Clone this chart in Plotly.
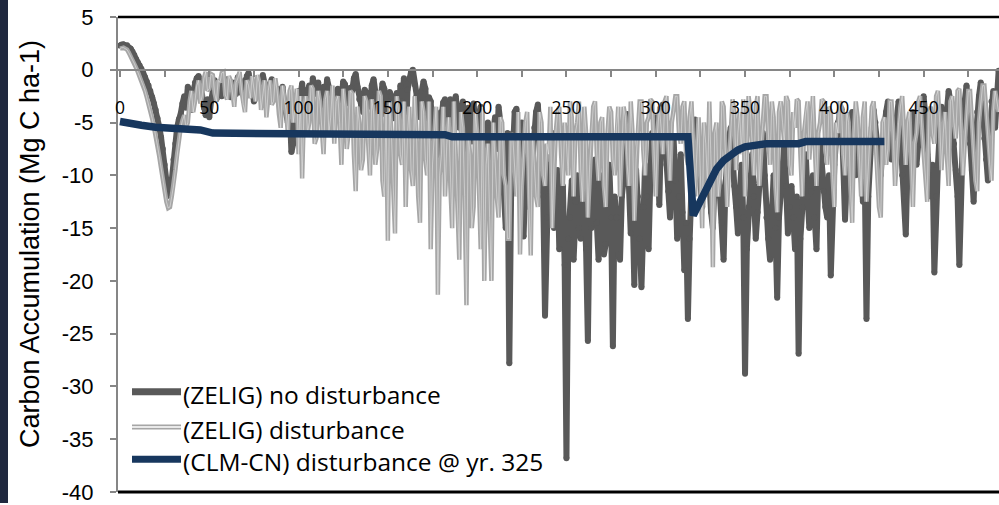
import plotly.graph_objects as go

# ---------------- data ----------------
zelig_years = list(range(0, 493))

zelig_no_disturbance = [
    2.3, 2.4, 2.4, 2.3, 2.3, 2.1, 2.0, 1.7, 1.4, 1.0,
    0.7, 0.4, 0.1, -0.3, -0.7, -1.1, -1.5, -2.0, -2.6, -3.2,
    -3.8, -4.6, -5.4, -6.4, -7.5, -9.0, -10.5, -11.9, -11.8, -10.5,
    -8.5, -7.0, -5.5, -4.7, -4.2, -3.2, -2.5, -3.6, -1.6, -2.2,
    -3.8, -2.0, -1.2, -0.8, -0.6, -1.5, -2.4, -3.6, -4.3, -2.8,
    -4.5, -3.0, -1.5, -1.0, -2.8, -1.6, -1.2, -2.5, -2.0, -1.3,
    -0.9, -1.8, -2.6, -1.2, -1.5, -2.3, -0.7, -1.4, -2.2, -1.6,
    -1.0, -0.6, -0.3, -1.2, -1.8, -3.0, -2.5, -1.4, -1.1, -2.2,
    -0.5, -1.3, -2.0, -2.6, -1.4, -0.9, -2.8, -2.0, -1.8, -3.0,
    -2.5, -1.6, -3.2, -4.0, -5.0, -3.5, -7.8, -7.0, -6.5, -3.0,
    -2.0, -2.6, -1.3, -3.3, -2.8, -1.9, -1.5, -2.8, -0.8, -1.5,
    -2.3, -1.2, -3.5, -2.4, -1.6, -2.9, -0.9, -1.7, -2.4, -3.0,
    -3.6, -2.2, -1.8, -2.6, -2.9, -1.1, -1.4, -2.5, -3.2, -1.7,
    -2.0, -0.8, -0.4, -1.6, -2.8, -3.3, -4.0, -1.9, -2.2, -3.1,
    -3.5, -1.5, -0.9, -2.1, -5.0, -2.4, -2.7, -1.3, -1.8, -4.2,
    -4.2, -2.1, -2.5, -4.6, -3.8, -2.2, -6.5, -1.5, -3.0, -0.8,
    -7.0, -1.9, -0.8, -0.2, 0.0, -1.4, -2.5, -3.6, -4.5, -2.0,
    -1.1, -1.8, -5.5, -2.6, -3.0, -6.2, -8.0, -4.0, -10.0, -6.0,
    -4.0, -3.1, -2.8, -4.5, -6.0, -2.8, -3.5, -5.0, -2.5, -4.2,
    -5.5, -3.8, -3.0, -6.0, -7.5, -3.6, -4.0, -6.8, -3.2, -5.0,
    -6.5, -4.2, -3.5, -7.0, -9.0, -5.5, -5.0, -8.5, -12.0, -6.0,
    -4.5, -7.5, -3.5, -5.0, -8.0, -11.0, -15.0, -6.0, -27.8, -12.0,
    -6.0, -4.0, -3.7, -7.5, -9.0, -5.0, -15.8, -10.0, -7.0, -13.0,
    -11.0, -8.0, -5.5, -4.0, -3.3, -6.5, -8.5, -12.0, -23.3, -14.0,
    -9.0, -11.5, -6.0, -15.0, -12.0, -9.5, -17.0, -13.0, -11.0, -18.5,
    -36.8, -16.0, -14.0, -10.5, -18.0, -12.5, -10.0, -15.0, -16.0, -9.0,
    -12.0, -17.0, -25.7, -13.0, -15.0, -11.0, -8.5, -14.5, -18.0, -10.0,
    -12.5, -17.5, -16.5, -11.0, -9.0, -14.0, -26.2, -12.0, -14.0, -17.5,
    -18.0, -12.0, -10.5, -7.0, -4.2, -11.0, -15.5, -12.5, -20.4, -9.5,
    -12.0, -16.0, -20.6, -13.0, -9.0, -12.0, -17.0, -10.0, -6.0, -8.5,
    -4.5, -7.0, -12.8, -5.0, -3.3, -6.0, -9.0, -11.5, -14.0, -8.0,
    -6.5, -10.5, -16.0, -12.0, -8.0, -13.5, -19.0, -14.5, -23.6, -16.0,
    -10.0, -6.5, -4.7, -6.0, -8.0, -10.5, -13.0, -9.0, -6.0, -11.0,
    -10.5, -13.5, -15.0, -10.0, -7.5, -9.0, -12.0, -14.5, -18.0, -11.0,
    -8.0, -6.5, -5.5, -9.0, -11.0, -13.0, -15.5, -12.0, -9.0, -14.0,
    -28.8, -17.0, -13.0, -10.0, -8.0, -12.0, -16.0, -13.5, -11.0, -8.5,
    -6.0, -10.0, -14.0, -16.0, -18.0, -13.0, -10.0, -15.0, -21.6, -14.0,
    -12.0, -9.5, -7.0, -11.0, -15.5, -13.0, -11.0, -14.0, -17.0, -12.0,
    -26.9, -16.0, -13.0, -10.5, -8.0, -12.0, -15.0, -11.5, -10.0, -14.0,
    -17.0, -10.0, -7.0, -9.0, -11.5, -13.0, -14.0, -10.0, -19.5, -12.0,
    -9.0, -6.5, -5.0, -4.2, -3.7, -8.0, -14.2, -10.0, -8.0, -5.5,
    -4.0, -6.5, -10.0, -8.0, -6.0, -9.0, -12.5, -9.5, -23.6, -12.0,
    -8.0, -5.5, -3.8, -5.0, -7.0, -8.5, -10.0, -7.0, -5.0, -4.0,
    -3.0, -5.0, -8.5, -7.0, -6.0, -4.5, -3.0, -6.0, -10.0, -12.0,
    -15.6, -9.0, -7.0, -5.0, -4.0, -6.5, -9.0, -7.0, -5.5, -4.0,
    -2.5, -4.5, -8.0, -10.0, -12.0, -9.0, -19.2, -12.0, -9.0, -6.0,
    -3.5, -5.0, -7.5, -4.0, -2.0, -3.0, -5.0, -7.0, -9.5, -12.0,
    -18.5, -10.0, -6.0, -3.0, -1.5, -3.5, -7.0, -9.5, -12.5, -7.0,
    -4.0, -2.5, -1.2, -3.5, -6.5, -8.5, -10.5, -6.0, -3.0, -2.0,
    -5.5, -2.5, -0.1,
]

zelig_disturbance = [
    2.0, 2.1, 2.1, 2.0, 1.9, 1.6, 1.3, 1.0, 0.6, 0.2,
    -0.2, -0.6, -1.0, -1.5, -2.0, -2.6, -3.2, -3.9, -4.6, -5.4,
    -6.2, -7.2, -8.2, -9.3, -10.5, -11.6, -12.5, -13.1, -13.0, -12.0,
    -11.0, -9.5, -8.0, -6.5, -5.5, -4.8, -4.3, -5.5, -5.0, -3.0,
    -2.0, -4.0, -3.0, -1.5, -1.0, -3.2, -2.5, -0.8, -0.2, -2.0,
    -1.8, -0.4, -0.5, -2.2, -3.0, -1.0, -1.2, -0.3, -0.2, -2.4,
    -2.8, -0.6, -1.0, -2.2, -3.5, -1.2, -0.8, -0.2, -2.0, -3.3,
    -4.0, -1.0, -1.5, -2.7, -0.6, -1.8, -3.0, -0.5, -1.2, -3.8,
    -2.5, -1.0, -4.5, -2.0, -1.0, -3.3, -3.0, -0.8, -2.0, -4.2,
    -5.5, -1.5, -2.5, -3.8, -6.0, -2.0, -1.5, -5.0, -3.5, -1.8,
    -8.0, -2.5, -10.3, -4.0, -2.5, -6.0, -5.0, -1.5, -1.8, -7.0,
    -6.5, -2.0, -3.0, -5.5, -8.0, -2.8, -2.0, -6.0, -4.5, -1.5,
    -7.0, -3.0, -2.5, -5.0, -9.0, -1.8, -3.5, -7.5, -6.0, -2.0,
    -2.2, -8.0, -11.5, -3.5, -5.0, -9.5, -8.5, -2.5, -3.0, -7.0,
    -10.0, -2.8, -4.0, -9.0, -7.5, -2.0, -2.5, -10.5, -12.0, -4.0,
    -16.2, -3.0, -6.0, -11.0, -15.5, -2.5, -4.0, -8.0, -9.0, -3.0,
    -13.0, -6.0, -3.5, -9.5, -11.0, -2.5, -6.0, -12.0, -14.5, -3.0,
    -4.0, -8.5, -10.0, -3.0, -17.0, -9.0, -6.5, -3.5, -21.3, -10.0,
    -8.0, -3.5, -12.0, -7.0, -4.5, -11.0, -15.0, -3.0, -9.0, -13.0,
    -18.0, -4.0, -5.5, -12.0, -22.3, -6.0, -8.0, -15.0, -13.0, -4.0,
    -6.0, -11.0, -17.0, -3.5, -20.0, -9.0, -7.0, -14.0, -20.0, -5.0,
    -9.0, -12.0, -14.0, -4.5, -5.0, -10.0, -11.0, -16.0, -16.0, -6.0,
    -6.5, -9.0, -12.0, -4.0, -17.5, -11.0, -8.0, -5.0, -4.0, -13.0,
    -17.6, -6.0, -9.0, -12.0, -13.0, -4.0, -5.0, -10.0, -11.0, -7.0,
    -8.0, -3.5, -15.0, -9.0, -6.0, -4.0, -3.5, -8.0, -11.0, -5.0,
    -7.0, -10.0, -3.0, -4.5, -12.0, -6.0, -5.0, -3.0, -9.5, -12.5,
    -3.5, -6.0, -14.0, -9.0, -6.5, -3.5, -3.0, -8.0, -10.5, -5.0,
    -4.5, -11.0, -13.0, -6.0, -3.5, -4.0, -8.5, -10.0, -5.5, -3.5,
    -12.0, -7.0, -3.5, -4.5, -9.0, -11.0, -3.0, -6.0, -14.3, -8.5,
    -6.0, -3.0, -3.0, -7.5, -10.0, -5.0, -4.5, -2.8, -3.0, -8.0,
    -12.0, -6.0, -3.5, -5.5, -8.0, -3.0, -2.5, -7.0, -10.5, -5.0,
    -4.0, -2.5, -2.5, -6.0, -7.0, -3.5, -3.0, -8.0, -9.0, -4.5,
    -3.0, -7.0, -12.0, -8.0, -4.5, -10.0, -15.0, -5.0, -7.0, -11.0,
    -3.0, -9.0, -18.7, -6.0, -5.0, -12.0, -10.0, -3.0, -3.5, -8.0,
    -13.0, -9.0, -6.0, -2.8, -4.0, -9.5, -6.0, -4.0, -8.0, -2.8,
    -12.0, -6.0, -2.5, -4.0, -7.5, -10.0, -3.5, -2.5, -11.0, -7.0,
    -5.0, -2.5, -2.5, -6.5, -9.0, -3.0, -4.5, -11.0, -13.5, -4.0,
    -3.0, -5.0, -7.0, -2.5, -3.0, -9.0, -10.0, -4.0, -5.5, -2.8,
    -3.0, -8.0, -12.0, -6.0, -4.0, -3.0, -8.5, -5.0, -2.5, -7.0,
    -11.0, -6.0, -5.0, -2.8, -3.0, -7.5, -9.0, -3.5, -4.0, -10.0,
    -13.0, -5.0, -6.0, -3.0, -3.5, -8.0, -10.0, -4.0, -5.0, -11.0,
    -14.5, -6.0, -3.0, -4.5, -8.0, -12.0, -4.5, -3.0, -12.5, -9.0,
    -6.0, -3.5, -3.0, -7.0, -9.5, -13.0, -14.0, -5.0, -4.5, -9.0,
    -7.5, -3.0, -3.0, -6.0, -11.0, -8.0, -5.0, -3.5, -2.5, -6.0,
    -9.0, -5.0, -4.0, -8.5, -13.0, -7.0, -6.0, -3.0, -2.5, -5.5,
    -8.0, -10.0, -12.5, -4.0, -3.5, -6.0, -7.0, -2.5, -2.0, -5.0,
    -9.5, -6.0, -4.0, -8.0, -11.0, -3.0, -2.5, -5.0, -6.5, -2.0,
    -1.8, -6.0, -10.0, -7.0, -4.0, -2.0, -2.0, -5.5, -8.0, -10.5,
    -11.5, -5.0, -3.0, -1.5, -1.5, -4.0, -7.0, -9.0, -10.5, -4.0,
    -2.0, -3.0, -4.0,
]

clm_years = [0, 6, 12, 20, 30, 45, 52, 96, 100, 182, 186, 318, 321, 326, 330,
             334, 338, 342, 346, 350, 356, 362, 380, 384, 428]
clm_cn_disturbance = [-4.9, -5.0, -5.25, -5.45, -5.55, -5.7, -6.0, -6.0, -6.15, -6.15,
                      -6.35, -6.35, -13.8, -12.0, -10.6, -9.4, -8.6, -8.0, -7.6, -7.3,
                      -7.1, -7.0, -7.0, -6.8, -6.8]

assert len(zelig_no_disturbance) == len(zelig_years), len(zelig_no_disturbance)
assert len(zelig_disturbance) == len(zelig_years), len(zelig_disturbance)
assert len(clm_years) == len(clm_cn_disturbance)

legend_labels = ["(ZELIG) no disturbance", "(ZELIG) disturbance",
                 "(CLM-CN) disturbance @ yr. 325"]
x_ticks = [0, 50, 100, 150, 200, 250, 300, 350, 400, 450]
y_ticks = [5, 0, -5, -10, -15, -20, -25, -30, -35, -40]

# ---------------- styles ----------------
DARK = "#595959"
LIGHT = "#a6a6a6"
NAVY = "#17375e"
AXIS = "#868686"

W, H = 999, 505
ML, MR, MT, MB = 118, 0, 17, 9
PW = W - ML - MR
PH = H - MT - MB
Y_MIN, Y_MAX = -40.0, 5.0


def px_x(p):
    return (p - ML) / PW


def px_y(p):
    return (H - MB - p) / PH


fig = go.Figure()

fig.add_trace(go.Scatter(x=zelig_years, y=zelig_no_disturbance, mode="lines+markers",
                         line=dict(color=DARK, width=6),
                         marker=dict(color=DARK, size=6, line=dict(width=0)),
                         name=legend_labels[0], showlegend=False, hoverinfo="skip"))
fig.add_trace(go.Scatter(x=zelig_years, y=zelig_disturbance, mode="lines",
                         line=dict(color=LIGHT, width=4.5), name=legend_labels[1],
                         showlegend=False, hoverinfo="skip"))
fig.add_trace(go.Scatter(x=zelig_years, y=zelig_disturbance, mode="lines",
                         line=dict(color="rgba(255,255,255,0.6)", width=0.7),
                         showlegend=False, hoverinfo="skip"))
fig.add_trace(go.Scatter(x=clm_years, y=clm_cn_disturbance, mode="lines",
                         line=dict(color=NAVY, width=7.5), name=legend_labels[2],
                         showlegend=False, hoverinfo="skip"))

shapes = []
shapes.append(dict(type="rect", xref="paper", yref="paper",
                   x0=px_x(0), x1=px_x(8), y0=px_y(H + 2), y1=px_y(-2),
                   fillcolor="#20283f", line=dict(width=0), layer="above"))
shapes.append(dict(type="line", xref="paper", yref="paper", x0=0, x1=1, y0=1, y1=1,
                   line=dict(color="black", width=2.5)))
shapes.append(dict(type="line", xref="paper", yref="paper", x0=0, x1=1, y0=0, y1=0,
                   line=dict(color="black", width=3)))

leg_rows = [395, 430.5, 463]
lx0, lx1 = px_x(132), px_x(181)
shapes.append(dict(type="line", xref="paper", yref="paper", x0=lx0, x1=lx1,
                   y0=px_y(leg_rows[0]), y1=px_y(leg_rows[0]),
                   line=dict(color=DARK, width=7)))
shapes.append(dict(type="line", xref="paper", yref="paper", x0=lx0, x1=lx1,
                   y0=px_y(leg_rows[1]), y1=px_y(leg_rows[1]),
                   line=dict(color=LIGHT, width=5)))
shapes.append(dict(type="line", xref="paper", yref="paper", x0=lx0, x1=lx1,
                   y0=px_y(leg_rows[1]), y1=px_y(leg_rows[1]),
                   line=dict(color="white", width=1.5)))
shapes.append(dict(type="line", xref="paper", yref="paper", x0=lx0, x1=lx1,
                   y0=px_y(leg_rows[2]), y1=px_y(leg_rows[2]),
                   line=dict(color=NAVY, width=7)))

annotations = []
for lab, r in zip(legend_labels, leg_rows):
    annotations.append(dict(text=lab, xref="paper", yref="paper",
                            x=px_x(182), y=px_y(r + 2.5), xanchor="left", yanchor="middle",
                            showarrow=False, borderpad=0,
                            font=dict(family="Open Sans", size=24.5, color="black")))

annotations.append(dict(text="Carbon Accumulation (Mg C ha-1)", xref="paper", yref="paper",
                        x=px_x(30), y=px_y(246), xanchor="center", yanchor="middle",
                        textangle=-90, showarrow=False,
                        font=dict(family="Liberation Sans", size=27, color="black")))

fig.update_layout(
    width=W, height=H,
    margin=dict(l=ML, r=MR, t=MT, b=MB, pad=0),
    paper_bgcolor="white", plot_bgcolor="white",
    showlegend=False,
    shapes=shapes, annotations=annotations,
    xaxis=dict(range=[-1.1, 492.2], anchor="free", position=-Y_MIN / (Y_MAX - Y_MIN),
               showline=True, linecolor=AXIS, linewidth=2,
               ticks="outside", ticklen=6, tickwidth=2, tickcolor=AXIS,
               tickmode="array", tickvals=x_ticks, ticktext=[str(v) for v in x_ticks],
               minor=dict(tickmode="linear", tick0=0, dtick=25, ticks="outside",
                          ticklen=6, tickwidth=2, tickcolor=AXIS),
               showgrid=False, zeroline=False, ticklabelstandoff=16,
               tickfont=dict(family="Open Sans", size=17.5, color="black")),
    yaxis=dict(range=[Y_MIN, Y_MAX], showline=True, linecolor=AXIS, linewidth=2,
               ticks="outside", ticklen=6, tickwidth=2, tickcolor=AXIS,
               tickmode="array", tickvals=y_ticks, ticktext=[str(v) for v in y_ticks],
               showgrid=False, zeroline=False, ticklabelstandoff=12,
               ticklabeloverflow="allow",
               tickfont=dict(family="Liberation Sans", size=22, color="black")),
)

fig.write_html("out.html")
